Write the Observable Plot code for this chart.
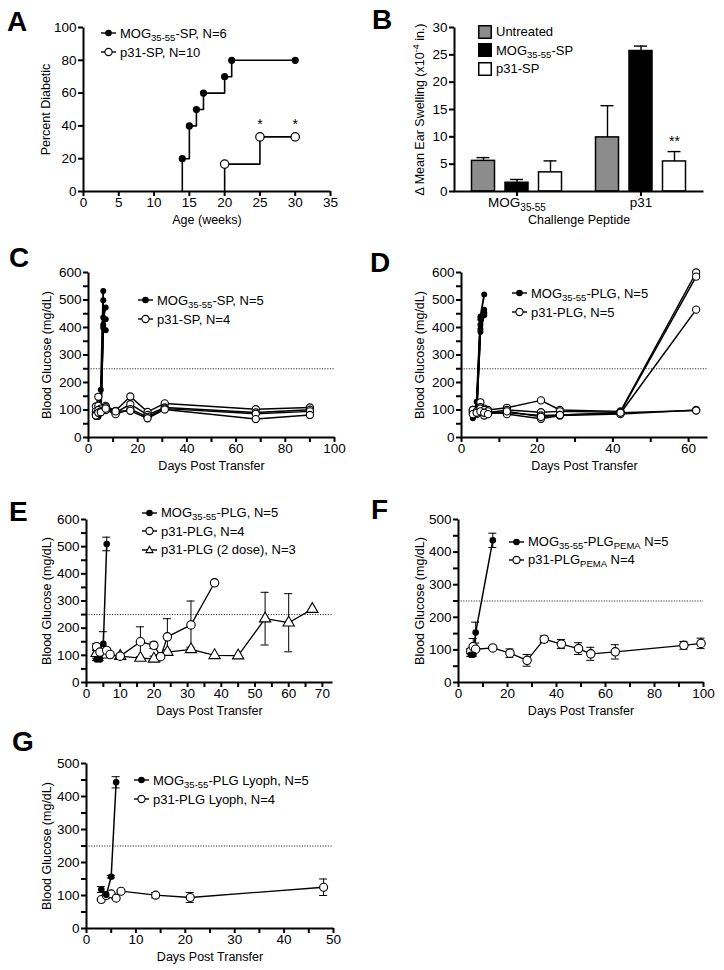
<!DOCTYPE html>
<html><head><meta charset="utf-8">
<script src="https://cdn.jsdelivr.net/npm/d3@7"></script>
<script src="https://cdn.jsdelivr.net/npm/@observablehq/plot@0.6"></script>
<style>
body{margin:0;background:#fff;}
#fig{position:relative;width:724px;height:970px;overflow:hidden;font-family:"Liberation Sans",Arial,Helvetica,sans-serif;color:#000;background:#fff}
.panel{position:absolute}
.letter{position:absolute;font-weight:bold;font-size:28px;line-height:1}
.legend{position:absolute;font-size:13px;line-height:1}
.legend .row{display:flex;align-items:center;height:19px;white-space:nowrap}
.legend svg{margin-right:4px;flex:none}
.legend sub{font-size:9.5px;vertical-align:-3px;line-height:0}
.panel svg [aria-label$="axis label"]{font-size:12.5px}
</style></head><body><div id="fig"></div><script>
// ================= DATA =================
// Panel A – cumulative incidence
const A_mogWeeks = [14, 15, 16, 17, 20, 21, 30];
const A_mogPct   = [20, 40, 50, 60, 70, 80, 80];
const A_p31Weeks = [20, 25, 30];
const A_p31Pct   = [16.7, 33.3, 33.3];
const A_sigWeeks = [25, 30];
const A_xTicks = [0, 5, 10, 15, 20, 25, 30, 35];
const A_yTicks = [0, 20, 40, 60, 80, 100];

// Panel B – ear swelling
const B_peptides   = ["MOG35-55", "p31"];
const B_treatments = ["Untreated", "MOG35-55-SP", "p31-SP"];
const B_untreated    = [5.6, 9.9];
const B_untreatedErr = [0.6, 5.8];
const B_mogSP        = [1.6, 25.7];
const B_mogSPErr     = [0.6, 0.9];
const B_p31SP        = [3.5, 5.5];
const B_p31SPErr     = [2.1, 1.8];
const B_yTicks = [0, 5, 10, 15, 20, 25, 30];

// Panel C – individual mice (SP)
const C_mogDays = [3, 4, 5, 6, 7];
const C_mog = [
  [90, 80, 174, 533, null],
  [85, 75, 95, 499, null],
  [80, 85, 90, 436, 473],
  [95, 78, 100, 410, 430],
  [75, 90, 88, 400, 390]
];
const C_p31Days = [3, 4, 5, 7, 11, 17, 24, 31, 68, 90];
const C_p31 = [
  [113, 148, 100, 115, 97, 149, 93, 124, 103, 109],
  [95, 115, 105, 110, 90, 121, 82, 109, 91, 101],
  [85, 100, 95, 100, 85, 103, 75, 105, 86, 95],
  [80, 90, 92, 105, 95, 97, 70, 102, 67, 82]
];

// Panel D – individual mice (PLG)
const D_mogDays = [3, 4, 5, 6];
const D_mog = [
  [75, 130, 440, 520],
  [70, 100, 430, 465],
  [80, 95, 410, 455],
  [78, 92, 395, 445],
  [85, 100, 385, 450]
];
const D_p31Days = [3, 4, 5, 6, 7, 12, 21, 26, 42, 62];
const D_p31 = [
  [100, 92, 128, 105, 100, 108, 135, 100, 95, 600],
  [95, 88, 110, 95, 90, 100, 92, 95, 92, 585],
  [90, 85, 100, 80, 88, 90, 80, 82, 88, 465],
  [100, 95, 105, 100, 95, 85, 68, 80, 85, 100],
  [85, 90, 95, 90, 85, 95, 75, 82, 90, 98]
];

// Panel E – means ± SEM
const E_mogDays = [3, 4, 5, 6];
const E_mog     = [85, 85, 142, 510];
const E_mogErr  = [4, 4, 45, 25];
const E_p31Days = [3, 4, 6, 7, 10, 16, 20, 22, 24, 31, 38];
const E_p31     = [132, 112, 118, 103, 97, 150, 137, 95, 168, 212, 367];
const E_p31Err  = [12, 10, 8, 6, 0, 55, 12, 8, 67, 88, 0];
const E_dose2Days = [3, 5, 6, 10, 16, 20, 24, 31, 38, 45, 53, 60, 67];
const E_dose2     = [108, 118, 102, 97, 90, 87, 112, 122, 100, 99, 235, 220, 270];
const E_dose2Err  = [10, 8, 4, 0, 0, 10, 8, 8, 0, 0, 97, 107, 0];

// Panel F – means ± SEM (PEMA)
const F_mogDays = [5, 6, 7, 14];
const F_mog     = [85, 85, 153, 436];
const F_mogErr  = [5, 5, 32, 22];
const F_p31Days = [5, 6, 7, 14, 21, 28, 35, 42, 49, 54, 64, 92, 99];
const F_p31     = [96, 110, 102, 106, 90, 68, 133, 118, 104, 88, 94, 114, 120];
const F_p31Err  = [8, 25, 6, 4, 13, 18, 10, 14, 18, 20, 22, 12, 16];

// Panel G – means ± SEM (lyophilized)
const G_mogDays = [3, 4, 5, 6];
const G_mog     = [118, 102, 157, 443];
const G_mogErr  = [9, 9, 4, 17];
const G_p31Days = [3, 4, 5, 6, 7, 14, 21, 48];
const G_p31     = [88, 100, 105, 92, 113, 101, 94, 125];
const G_p31Err  = [3, 3, 3, 3, 3, 8, 15, 25];

const diabetesThreshold = 250;
const glucoseLabel = "Blood Glucose (mg/dL)";
const daysLabel = "Days Post Transfer";

// Legend texts
const A_legend = ["MOG<sub>35-55</sub>-SP, N=6", "p31-SP, N=10"];
const B_legend = ["Untreated", "MOG<sub>35-55</sub>-SP", "p31-SP"];
const C_legend = ["MOG<sub>35-55</sub>-SP, N=5", "p31-SP, N=4"];
const D_legend = ["MOG<sub>35-55</sub>-PLG, N=5", "p31-PLG, N=5"];
const E_legend = ["MOG<sub>35-55</sub>-PLG, N=5", "p31-PLG, N=4", "p31-PLG (2 dose), N=3"];
const F_legend = ["MOG<sub>35-55</sub>-PLG<sub>PEMA</sub> N=5", "p31-PLG<sub>PEMA</sub> N=4"];
const G_legend = ["MOG<sub>35-55</sub>-PLG Lyoph, N=5", "p31-PLG Lyoph, N=4"];

// ================= HELPERS =================
const FONT = '"Liberation Sans", Arial, Helvetica, sans-serif';
const fig = document.getElementById("fig");

function place(node, left, top) {
  const d = document.createElement("div");
  d.className = "panel"; d.style.left = left + "px"; d.style.top = top + "px";
  d.appendChild(node); fig.appendChild(d);
}
function letter(txt, left, top) {
  const d = document.createElement("div");
  d.className = "letter"; d.textContent = txt;
  d.style.left = left + "px"; d.style.top = top + "px";
  fig.appendChild(d);
}
function sym(kind) {
  const ln = '<line x1="0" y1="6" x2="15" y2="6" stroke="black" stroke-width="1.4"/>';
  if (kind === "filled") return `<svg width="15" height="12">${ln}<circle cx="7.5" cy="6" r="3.3" fill="black"/></svg>`;
  if (kind === "open") return `<svg width="15" height="12">${ln}<circle cx="7.5" cy="6" r="3.6" fill="white" stroke="black" stroke-width="1.1"/></svg>`;
  if (kind === "tri") return `<svg width="15" height="12">${ln}<path d="M7.5,2.2L11,8.6H4Z" fill="white" stroke="black" stroke-width="1.1"/></svg>`;
  return `<svg width="14" height="14"><rect x="0.75" y="0.75" width="12.5" height="12.5" fill="${kind}" stroke="black" stroke-width="1.5"/></svg>`;
}
function legend(left, top, labels, kinds, rowH = 19) {
  const d = document.createElement("div");
  d.className = "legend"; d.style.left = left + "px"; d.style.top = top + "px";
  d.innerHTML = labels.map((t, i) => `<div class="row" style="height:${rowH}px">${sym(kinds[i])}<span>${t}</span></div>`).join("");
  fig.appendChild(d);
}
function axisL(b) {
  return Plot.axisY({
    ticks: b.yTicks, tickFormat: d => (b.yLabels ? (b.yLabels.includes(d) ? String(d) : "") : String(d)),
    tickSize: 5, tickPadding: 2, strokeWidth: 2,
    label: b.yLabel, labelAnchor: "center", labelOffset: b.yOff, labelArrow: "none"
  });
}
function axisB(b) {
  return Plot.axisX({
    ...(b.xTicks ? {ticks: b.xTicks, tickFormat: d => (b.xLabels ? (b.xLabels.includes(d) ? String(d) : "") : String(d))} : {}),
    tickSize: 5, tickPadding: 1, strokeWidth: 2,
    label: b.xLabel, labelAnchor: "center", labelOffset: 32, labelArrow: "none"
  });
}
function frameLB(b) {
  const W = b.width - b.ml - b.mr, H = b.height - b.mt - b.mb;
  return Plot.frame({stroke: "black", strokeWidth: 2, strokeDasharray: `0 ${W + H} ${W + H}`});
}
function mk(b, marks, xOpt, yOpt) {
  return Plot.plot({
    width: b.width, height: b.height,
    marginLeft: b.ml, marginRight: b.mr, marginTop: b.mt, marginBottom: b.mb,
    style: {fontFamily: FONT, fontSize: "13.5px", background: "transparent", overflow: "visible", color: "black"},
    x: xOpt, y: yOpt,
    marks: [axisL(b), axisB(b), ...marks, frameLB(b)]
  });
}
const rows = (days, vals, errs) => days.map((d, i) => ({day: d, v: vals[i], e: errs ? errs[i] : 0}));
const traces = (days, mice) => mice.flatMap((vals, m) => vals.map((v, i) => ({m, day: days[i], v})).filter(r => r.v != null));
function errMarks(data, cap = 4) {
  const ed = data.filter(r => r.e > 0);
  return [
    Plot.ruleX(ed, {x: "day", y1: r => r.v - r.e, y2: r => r.v + r.e, stroke: "black", strokeWidth: 1}),
    Plot.ruleY(ed, {y: r => r.v + r.e, x1: "day", x2: "day", insetLeft: -cap, insetRight: -cap, stroke: "black", strokeWidth: 1}),
    Plot.ruleY(ed, {y: r => r.v - r.e, x1: "day", x2: "day", insetLeft: -cap, insetRight: -cap, stroke: "black", strokeWidth: 1})
  ];
}
const thresholdRule = () => Plot.ruleY([diabetesThreshold], {stroke: "#333", strokeWidth: 1, strokeDasharray: "1.2,1.4"});

// ================= PANEL A =================
{
  const b = {width: 362, height: 235, ml: 83, mr: 32, mt: 27, mb: 44,
    xTicks: A_xTicks, yTicks: A_yTicks, xLabel: "Age (weeks)", yLabel: "Percent Diabetic", yOff: 42};
  const mog = A_mogWeeks.map((w, i) => ({w, p: A_mogPct[i]}));
  const p31 = A_p31Weeks.map((w, i) => ({w, p: A_p31Pct[i]}));
  const stepData = s => [{w: s[0].w, p: 0}, ...s];
  const svg = mk(b, [
    Plot.line(stepData(mog), {x: "w", y: "p", curve: "step-after", stroke: "black", strokeWidth: 1.6}),
    Plot.line(stepData(p31), {x: "w", y: "p", curve: "step-after", stroke: "black", strokeWidth: 1.6}),
    Plot.dot(mog, {x: "w", y: "p", r: 3.6, fill: "black"}),
    Plot.dot(p31, {x: "w", y: "p", r: 4.2, fill: "white", stroke: "black", strokeWidth: 1.2}),
    Plot.text(p31.filter(d => A_sigWeeks.includes(d.w)), {x: "w", y: "p", text: () => "*", dy: -12, fontSize: 14})
  ], {domain: [0, 35]}, {domain: [0, 100]});
  place(svg, 0, 0);
  letter("A", 7, 8);
  legend(101, 23.5, A_legend, ["filled", "open"]);
}

// ================= PANEL B =================
{
  const b = {width: 362, height: 235, ml: 92, mr: 21, mt: 27, mb: 44,
    yTicks: B_yTicks, xLabel: "Challenge Peptide", yLabel: "Δ Mean Ear Swelling (x10-4 in.)", yOff: 39};
  const series = [
    {name: B_treatments[0], vals: B_untreated, errs: B_untreatedErr, fill: "#8c8c8c", dx: -33.5},
    {name: B_treatments[1], vals: B_mogSP, errs: B_mogSPErr, fill: "black", dx: 0},
    {name: B_treatments[2], vals: B_p31SP, errs: B_p31SPErr, fill: "white", dx: 33.5}
  ];
  const marks = [];
  for (const s of series) {
    const data = B_peptides.map((p, i) => ({p, v: s.vals[i], e: s.errs[i]}));
    marks.push(
      Plot.ruleX(data, {x: "p", y1: "v", y2: d => d.v + d.e, dx: s.dx, stroke: "black", strokeWidth: 1.4}),
      Plot.tickY(data, {x: "p", y: d => d.v + d.e, dx: s.dx, insetLeft: 5, insetRight: 5, stroke: "black", strokeWidth: 1.4}),
      Plot.barY(data, {x: "p", y: "v", dx: s.dx, fill: s.fill, stroke: "black", strokeWidth: 1.5})
    );
    if (s.name === "p31-SP") {
      marks.push(Plot.text(data.filter(d => d.p === "p31"), {x: "p", y: d => d.v + d.e, dx: s.dx, dy: -10, text: () => "**", fontSize: 14}));
    }
  }
  const svg = mk(b, marks,
    {type: "band", domain: B_peptides, paddingInner: 0.815, paddingOuter: 0.41},
    {domain: [0, 30]});
  svg.querySelectorAll("text").forEach(t => {
    if (t.textContent === "MOG35-55") t.innerHTML = 'MOG<tspan dy="4" font-size="10">35-55</tspan>';
    if (t.textContent.includes("Ear Swelling")) t.innerHTML = 'Δ Mean Ear Swelling (x10<tspan dy="-5" font-size="9">-4</tspan><tspan dy="5"> in.)</tspan>';
  });
  place(svg, 362, 0);
  letter("B", 372, 6);
  legend(478, 22.5, B_legend, ["#8c8c8c", "black", "white"], 18.5);
}

// ================= PANEL C =================
{
  const b = {width: 362, height: 235, ml: 88, mr: 28, mt: 37, mb: 33,
    xTicks: d3.range(0, 101, 10), xLabels: [0, 20, 40, 60, 80, 100],
    yTicks: d3.range(0, 601, 50), yLabels: [0, 100, 200, 300, 400, 500, 600],
    xLabel: daysLabel, yLabel: glucoseLabel, yOff: 46};
  const mog = traces(C_mogDays, C_mog), p31 = traces(C_p31Days, C_p31);
  const svg = mk(b, [
    thresholdRule(),
    Plot.line(p31, {x: "day", y: "v", z: "m", stroke: "black", strokeWidth: 1.5}),
    Plot.line(mog, {x: "day", y: "v", z: "m", stroke: "black", strokeWidth: 1.8}),
    Plot.dot(mog, {x: "day", y: "v", r: 3, fill: "black"}),
    Plot.dot(p31, {x: "day", y: "v", r: 3.6, fill: "white", stroke: "black", strokeWidth: 1.1})
  ], {domain: [0, 100]}, {domain: [0, 600]});
  place(svg, 0, 235);
  letter("C", 9, 244);
  legend(138, 290.5, C_legend, ["filled", "open"]);
}

// ================= PANEL D =================
{
  const b = {width: 362, height: 235, ml: 99, mr: 17, mt: 37, mb: 33,
    xTicks: d3.range(0, 61, 10), xLabels: [0, 20, 40, 60],
    yTicks: d3.range(0, 601, 50), yLabels: [0, 100, 200, 300, 400, 500, 600],
    xLabel: daysLabel, yLabel: glucoseLabel, yOff: 46};
  const mog = traces(D_mogDays, D_mog), p31 = traces(D_p31Days, D_p31);
  const svg = mk(b, [
    thresholdRule(),
    Plot.line(p31, {x: "day", y: "v", z: "m", stroke: "black", strokeWidth: 1.5}),
    Plot.line(mog, {x: "day", y: "v", z: "m", stroke: "black", strokeWidth: 1.8}),
    Plot.dot(mog, {x: "day", y: "v", r: 3, fill: "black"}),
    Plot.dot(p31, {x: "day", y: "v", r: 3.6, fill: "white", stroke: "black", strokeWidth: 1.1})
  ], {domain: [0, 65]}, {domain: [0, 600]});
  place(svg, 362, 235);
  letter("D", 370, 249);
  legend(512, 283.5, D_legend, ["filled", "open"]);
}

// ================= PANEL E =================
{
  const b = {width: 362, height: 250, ml: 86, mr: 30, mt: 49, mb: 38,
    xTicks: d3.range(0, 71, 5), xLabels: [0, 10, 20, 30, 40, 50, 60, 70],
    yTicks: d3.range(0, 601, 50), yLabels: [0, 100, 200, 300, 400, 500, 600],
    xLabel: daysLabel, yLabel: glucoseLabel, yOff: 44};
  const mog = rows(E_mogDays, E_mog, E_mogErr), p31 = rows(E_p31Days, E_p31, E_p31Err), d2 = rows(E_dose2Days, E_dose2, E_dose2Err);
  const svg = mk(b, [
    thresholdRule(),
    ...errMarks(d2), ...errMarks(p31), ...errMarks(mog),
    Plot.line(d2, {x: "day", y: "v", stroke: "black", strokeWidth: 1.3}),
    Plot.line(p31, {x: "day", y: "v", stroke: "black", strokeWidth: 1.3}),
    Plot.line(mog, {x: "day", y: "v", stroke: "black", strokeWidth: 1.5}),
    Plot.dot(d2, {x: "day", y: "v", symbol: "triangle", r: 4.2, fill: "white", stroke: "black", strokeWidth: 1.1}),
    Plot.dot(p31, {x: "day", y: "v", r: 4.2, fill: "white", stroke: "black", strokeWidth: 1.1}),
    Plot.dot(mog, {x: "day", y: "v", r: 3.3, fill: "black"})
  ], {domain: [0, 73]}, {domain: [0, 600]});
  place(svg, 0, 470);
  letter("E", 9, 498);
  legend(142, 503.5, E_legend, ["filled", "open", "tri"], 18.5);
}

// ================= PANEL F =================
{
  const b = {width: 362, height: 250, ml: 96, mr: 21, mt: 49, mb: 38,
    xTicks: d3.range(0, 101, 10), xLabels: [0, 20, 40, 60, 80, 100],
    yTicks: d3.range(0, 501, 50), yLabels: [0, 100, 200, 300, 400, 500],
    xLabel: daysLabel, yLabel: glucoseLabel, yOff: 43};
  const mog = rows(F_mogDays, F_mog, F_mogErr), p31 = rows(F_p31Days, F_p31, F_p31Err);
  const svg = mk(b, [
    thresholdRule(),
    ...errMarks(p31), ...errMarks(mog),
    Plot.line(p31, {x: "day", y: "v", stroke: "black", strokeWidth: 1.3}),
    Plot.line(mog, {x: "day", y: "v", stroke: "black", strokeWidth: 1.5}),
    Plot.dot(p31, {x: "day", y: "v", r: 4.2, fill: "white", stroke: "black", strokeWidth: 1.1}),
    Plot.dot(mog, {x: "day", y: "v", r: 3.3, fill: "black"})
  ], {domain: [0, 100]}, {domain: [0, 500]});
  place(svg, 362, 470);
  letter("F", 371, 496);
  legend(509, 532.5, F_legend, ["filled", "open"], 18);
}

// ================= PANEL G =================
{
  const b = {width: 362, height: 250, ml: 86, mr: 29, mt: 43, mb: 42,
    xTicks: d3.range(0, 51, 5), xLabels: [0, 10, 20, 30, 40, 50],
    yTicks: d3.range(0, 501, 50), yLabels: [0, 100, 200, 300, 400, 500],
    xLabel: daysLabel, yLabel: glucoseLabel, yOff: 44};
  const mog = rows(G_mogDays, G_mog, G_mogErr), p31 = rows(G_p31Days, G_p31, G_p31Err);
  const svg = mk(b, [
    thresholdRule(),
    ...errMarks(p31), ...errMarks(mog),
    Plot.line(p31, {x: "day", y: "v", stroke: "black", strokeWidth: 1.3}),
    Plot.line(mog, {x: "day", y: "v", stroke: "black", strokeWidth: 1.5}),
    Plot.dot(p31, {x: "day", y: "v", r: 4, fill: "white", stroke: "black", strokeWidth: 1.1}),
    Plot.dot(mog, {x: "day", y: "v", r: 3.3, fill: "black"})
  ], {domain: [0, 50]}, {domain: [0, 500]});
  place(svg, 0, 720);
  letter("G", 12, 728);
  legend(134, 770.5, G_legend, ["filled", "open"]);
}
</script></body></html>
